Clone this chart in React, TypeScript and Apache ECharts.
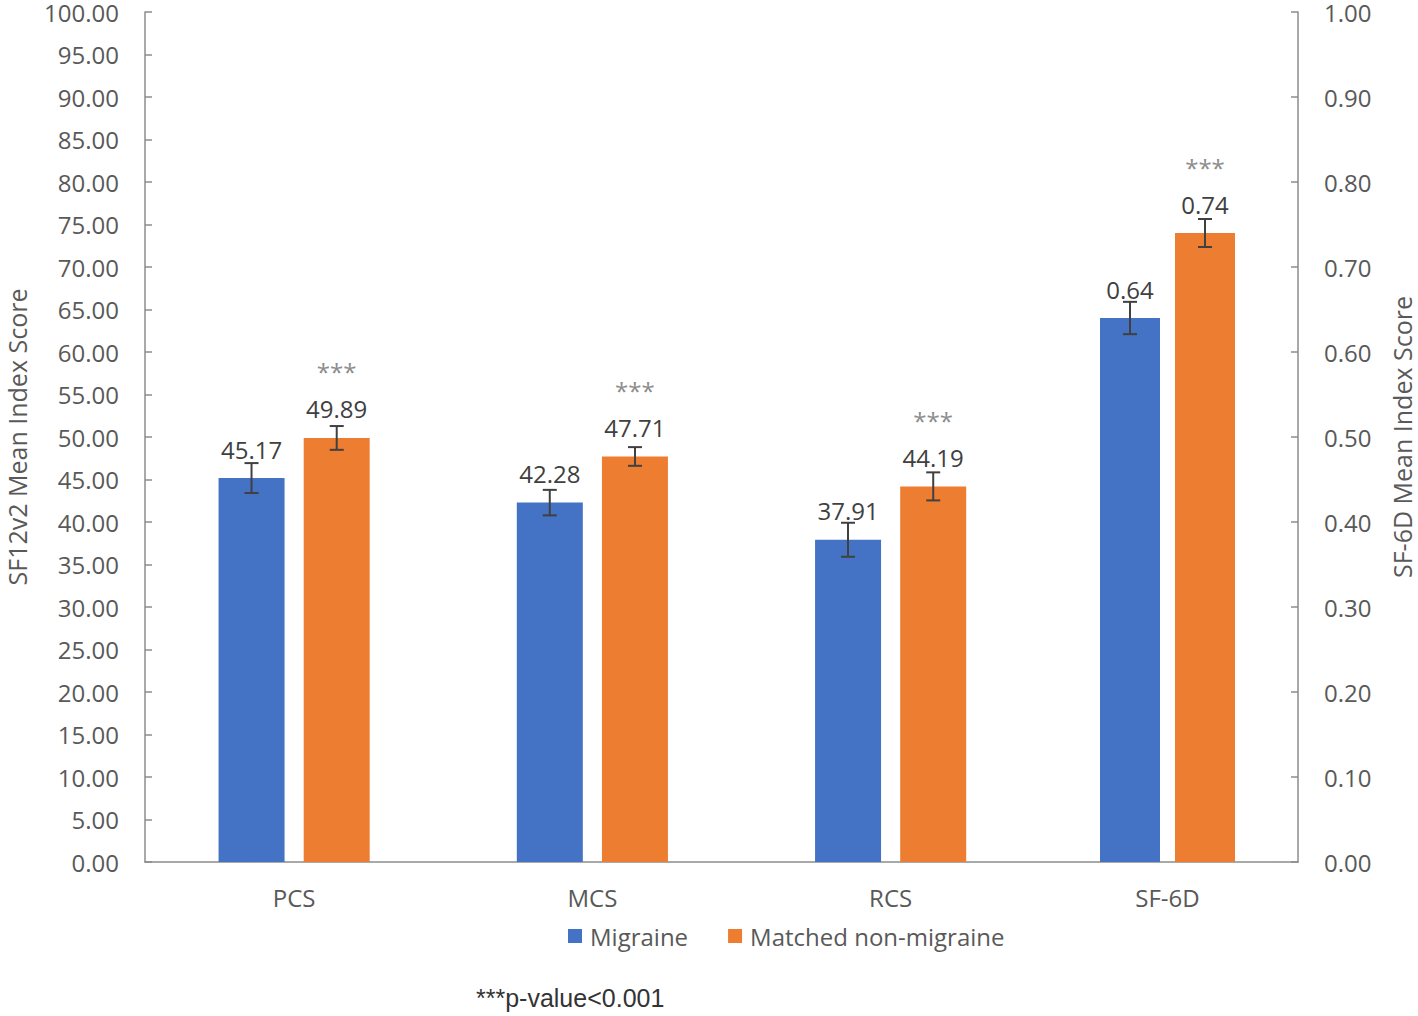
import React, { useEffect, useRef } from "react";
import * as echarts from "echarts";

const categories = ["PCS", "MCS", "RCS", "SF-6D"];
// SF12v2 components (left axis)
const migraineSF12 = [45.17, 42.28, 37.91];
const matchedSF12 = [49.89, 47.71, 44.19];
const migraineSF12Err = [1.76, 1.5, 2.0];
const matchedSF12Err = [1.4, 1.1, 1.65];
// SF-6D (right axis)
const migraineSF6D = 0.64;
const matchedSF6D = 0.74;
const migraineSF6DErr = 0.019;
const matchedSF6DErr = 0.0165;
const significance = ["***", "***", "***", "***"];
const footnote = "***p-value<0.001";

const BLUE = "#4472C4";
const ORANGE = "#ED7D31";
const TEXT = "#595959";
const LABEL = "#404040";
const AXIS = "#8c8c8c";
const ERR = "#404040";
const FONT = "'Open Sans', sans-serif";

function errorSeries(xAxisIndex: number, yAxisIndex: number, data: number[][], offset: number) {
  return {
    type: "custom",
    xAxisIndex,
    yAxisIndex,
    z: 10,
    silent: true,
    data,
    renderItem: (_p: any, api: any) => {
      const x = api.value(0);
      const v = api.value(1);
      const e = api.value(2);
      const hi = api.coord([x, v + e]);
      const lo = api.coord([x, v - e]);
      const cx = hi[0] + offset;
      const cap = 7;
      const st = { stroke: ERR, lineWidth: 2 };
      return {
        type: "group",
        children: [
          { type: "line", shape: { x1: cx, y1: hi[1], x2: cx, y2: lo[1] }, style: st },
          { type: "line", shape: { x1: cx - cap, y1: hi[1], x2: cx + cap, y2: hi[1] }, style: st },
          { type: "line", shape: { x1: cx - cap, y1: lo[1], x2: cx + cap, y2: lo[1] }, style: st },
        ],
      };
    },
  };
}

export default function App() {
  const ref = useRef<HTMLDivElement>(null);
  useEffect(() => {
    if (!ref.current) return;
    const chart = echarts.init(ref.current, null, { renderer: "svg" });

    const primBlue = [...migraineSF12, "-"];
    const primOrange = [...matchedSF12, "-"];
    const secBlue = ["-", "-", "-", migraineSF6D];
    const secOrange = ["-", "-", "-", matchedSF6D];

    const valueLabel = {
      show: true,
      position: "top",
      distance: 17,
      fontSize: 24,
      fontFamily: FONT,
      color: LABEL,
      formatter: (p: any) => Number(p.value).toFixed(2),
    };
    const sigLabel = {
      show: true,
      position: "top",
      distance: 15,
      fontFamily: FONT,
      formatter: (p: any) => `{s|${significance[p.dataIndex]}}\n{v|${Number(p.value).toFixed(2)}}`,
      rich: {
        s: { fontSize: 24, color: "#8c8c8c", lineHeight: 46, fontFamily: FONT },
        v: { fontSize: 24, color: LABEL, lineHeight: 28, fontFamily: FONT },
      },
    };

    const gridBase = { top: 12, height: 850, containLabel: false, outerBoundsMode: "none" };

    const option: any = {
      animation: false,
      backgroundColor: "#ffffff",
      textStyle: { fontFamily: FONT },
      grid: [
        { ...gridBase, left: 145, width: 1193 },
        { ...gridBase, left: 254, width: 1044 },
        { ...gridBase, left: 145, width: 1153 },
      ],
      xAxis: [
        {
          type: "category",
          gridIndex: 0,
          data: categories,
          axisLine: { show: false },
          axisTick: { show: false },
          axisLabel: {
            fontSize: 24,
            color: TEXT,
            margin: 23,
            fontFamily: FONT,
            formatter: (v: string, i: number) => (i < 3 ? v : ""),
          },
        },
        {
          type: "category",
          gridIndex: 1,
          data: categories,
          axisLine: { show: false },
          axisTick: { show: false },
          axisLabel: {
            fontSize: 24,
            color: TEXT,
            margin: 23,
            fontFamily: FONT,
            formatter: (v: string, i: number) => (i === 3 ? v : ""),
          },
        },
        {
          type: "category",
          gridIndex: 2,
          data: [""],
          axisLine: { show: true, lineStyle: { color: AXIS, width: 1.5 } },
          axisTick: { show: false },
          axisLabel: { show: false },
        },
      ],
      yAxis: [
        {
          type: "value",
          gridIndex: 0,
          min: 0,
          max: 100,
          interval: 5,
          name: "SF12v2 Mean Index Score",
          nameLocation: "middle",
          nameGap: 115,
          nameRotate: 90,
          nameTextStyle: { fontSize: 25, lineHeight: 26, color: TEXT, fontFamily: FONT },
          axisLine: { show: true, lineStyle: { color: AXIS, width: 1.5 } },
          axisTick: { show: true, inside: true, length: 7, lineStyle: { color: AXIS, width: 1.5 } },
          splitLine: { show: false },
          axisLabel: {
            fontSize: 24,
            lineHeight: 22,
            color: TEXT,
            margin: 26,
            fontFamily: FONT,
            formatter: (v: number) => v.toFixed(2),
          },
        },
        {
          type: "value",
          gridIndex: 1,
          position: "right",
          min: 0,
          max: 1,
          interval: 0.1,
          name: "SF-6D Mean Index Score",
          nameLocation: "middle",
          nameGap: 91,
          nameRotate: 90,
          nameTextStyle: { fontSize: 25, lineHeight: 26, color: TEXT, fontFamily: FONT },
          axisLine: { show: true, lineStyle: { color: AXIS, width: 1.5 } },
          axisTick: { show: true, inside: true, length: 7, lineStyle: { color: AXIS, width: 1.5 } },
          splitLine: { show: false },
          axisLabel: {
            fontSize: 24,
            lineHeight: 22,
            color: TEXT,
            margin: 26,
            fontFamily: FONT,
            formatter: (v: number) => v.toFixed(2),
          },
        },
        {
          type: "value",
          gridIndex: 2,
          show: false,
          min: 0,
          max: 1,
        },
      ],
      legend: {
        data: ["Migraine", "Matched non-migraine"],
        left: 563,
        top: 919,
        icon: "rect",
        itemWidth: 14,
        itemHeight: 14,
        itemGap: 40,
        textStyle: { fontSize: 24, color: TEXT, fontFamily: FONT, padding: [0, 0, 0, 3] },
      },
      series: [
        {
          name: "Migraine",
          type: "bar",
          xAxisIndex: 0,
          yAxisIndex: 0,
          data: primBlue,
          barWidth: 66,
          barGap: "29%",
          itemStyle: { color: BLUE },
          label: valueLabel,
        },
        {
          name: "Matched non-migraine",
          type: "bar",
          xAxisIndex: 0,
          yAxisIndex: 0,
          data: primOrange,
          barWidth: 66,
          barGap: "29%",
          itemStyle: { color: ORANGE },
          label: sigLabel,
        },
        {
          name: "Migraine",
          type: "bar",
          xAxisIndex: 1,
          yAxisIndex: 1,
          data: secBlue,
          barWidth: 60,
          barGap: "25%",
          itemStyle: { color: BLUE },
          label: valueLabel,
        },
        {
          name: "Matched non-migraine",
          type: "bar",
          xAxisIndex: 1,
          yAxisIndex: 1,
          data: secOrange,
          barWidth: 60,
          barGap: "25%",
          itemStyle: { color: ORANGE },
          label: sigLabel,
        },
        errorSeries(0, 0, migraineSF12.map((v, i) => [i, v, migraineSF12Err[i]]), -42.6),
        errorSeries(0, 0, matchedSF12.map((v, i) => [i, v, matchedSF12Err[i]]), 42.6),
        errorSeries(1, 1, [[3, migraineSF6D, migraineSF6DErr]], -37.5),
        errorSeries(1, 1, [[3, matchedSF6D, matchedSF6DErr]], 37.5),
      ],
      graphic: [
        {
          type: "text",
          left: 476,
          top: 985,
          style: {
            text: footnote,
            fontSize: 25,
            fontFamily: "'Liberation Sans', Arial, sans-serif",
            fill: "#333333",
          },
        },
      ],
    };

    chart.setOption(option);
    return () => chart.dispose();
  }, []);

  return (
    <div
      ref={ref}
      style={{ position: "fixed", left: 0, top: 0, width: 1418, height: 1016, background: "#fff" }}
    />
  );
}
